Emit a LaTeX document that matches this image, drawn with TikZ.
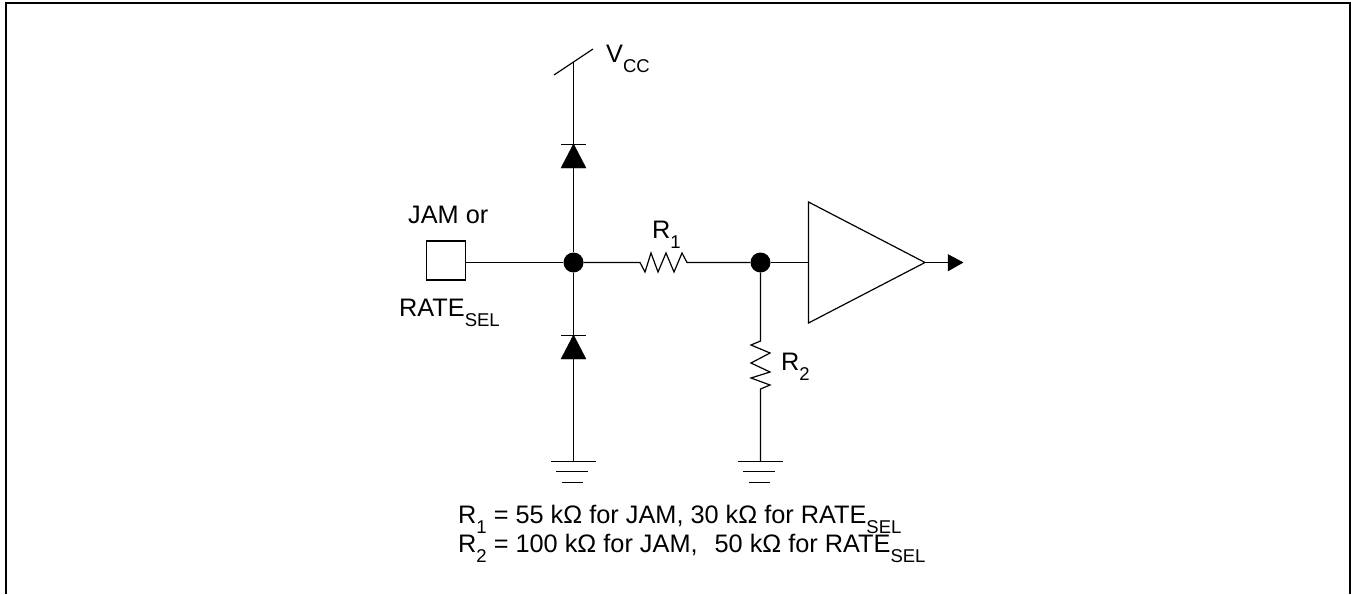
\documentclass[tikz,border=0pt]{standalone}
\usepackage{fontspec}
\setmainfont{Liberation Sans}
\newcommand{\lowsub}[1]{\raisebox{-10pt}{\fontsize{18.5}{18.5}\selectfont #1}}
\tikzset{
  wire/.style={black, line width=1.2pt},
  junction/.style={circle, fill=black, inner sep=0pt, minimum size=20pt},
  pad/.style={draw=black, line width=1.1pt, fill=white, inner sep=0pt, minimum size=39pt},
  lbl/.style={anchor=base west, inner sep=0pt, font=\fontsize{25.3}{25.3}\selectfont},
}
\begin{document}
\begin{tikzpicture}[x=1pt,y=-1pt]
  \useasboundingbox (0,0) rectangle (1351,594);
  \draw[black, line width=2pt] (6,594) -- (6,3) -- (1350,3) -- (1350,594);
  % nodes on the wires
  \node[junction] (jin) at (573.5,262.5) {};
  \node[junction] (jout) at (760.5,262.5) {};
  \node[pad] (pin) at (446,260.5) {};
  \coordinate (vcc) at (573.5,62);
  \coordinate (gndl) at (573.5,461.5);
  \coordinate (gndr) at (760.5,461.5);
  \coordinate (ampin) at (808.5,262.5);
  \coordinate (amptip) at (925,262.5);
  \coordinate (outtip) at (948,262.5);
  % wires
  \draw[wire] (pin.east |- jin) -- (jin);
  \draw[wire] (vcc) -- (jin);
  \draw[wire] (jin) -- (gndl);
  \draw[wire] (jout) -- (ampin);
  \draw[wire] (amptip) -- (outtip);
  % R1 and R2
  \draw[wire] (jin) -- (640,262.5) -- (645,272) -- (651,253) -- (658,272) -- (666,253) -- (674,272) -- (682,253) -- (687,262.5) -- (jout);
  \draw[wire] (jout) -- (760.5,341) -- (751,345) -- (770,353) -- (751,363) -- (770,372) -- (751,378) -- (770,385) -- (760.5,389) -- (gndr);
  % diodes
  \draw[black, fill=black] (561,168) -- (586,168) -- (573.5,144) -- cycle;
  \draw[wire] (561,144.5) -- (586,144.5);
  \draw[black, fill=black] (561,359) -- (586,359) -- (573.5,335) -- cycle;
  \draw[wire] (561,335.5) -- (586,335.5);
  % VCC and grounds
  \draw[wire] (554,75) -- (593,49);
  \draw[wire] (551,461.5) -- (596,461.5);
  \draw[wire] (556,471.5) -- (588,471.5);
  \draw[wire] (562,482.5) -- (583,482.5);
  \draw[wire] (738,461.5) -- (783,461.5);
  \draw[wire] (743,471.5) -- (775,471.5);
  \draw[wire] (749,482.5) -- (770,482.5);
  % amplifier
  \draw[wire, line join=miter] (808.5,202) -- (amptip) -- (808.5,323) -- cycle;
  \draw[black, fill=black] (948,254.5) -- (963,262.5) -- (948,271) -- cycle;
  % labels
  \node[lbl] (vcclbl) at (606,63) {V\lowsub{CC}};
  \node[lbl] (jamlbl) at (408,223) {JAM or};
  \node[lbl] (ratelbl) at (399,316) {RATE\lowsub{SEL}};
  \node[lbl] (ronelbl) at (652,238) {R\lowsub{1}};
  \node[lbl] (rtwolbl) at (781,370) {R\lowsub{2}};
  \node[lbl] (noteone) at (458,523) {R\lowsub{1} = 55 kΩ for JAM, 30 kΩ for RATE\lowsub{SEL}};
  \node[lbl] (notetwo) at (458,552) {R\lowsub{2} = 100 kΩ for JAM,\hspace{17pt}50 kΩ for RATE\lowsub{SEL}};
\end{tikzpicture}
\end{document}
